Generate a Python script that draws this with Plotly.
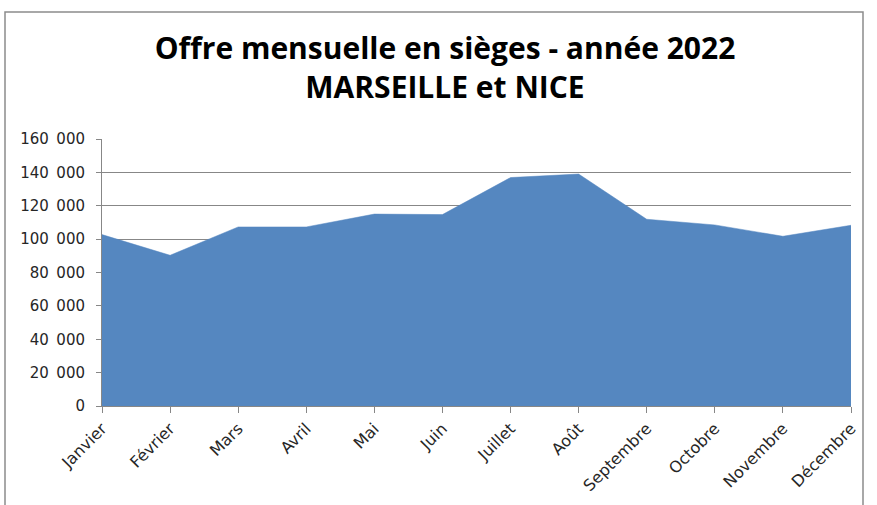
import plotly.graph_objects as go

mois = ["Janvier", "Février", "Mars", "Avril", "Mai", "Juin", "Juillet",
        "Août", "Septembre", "Octobre", "Novembre", "Décembre"]
sieges = [102700, 90300, 107300, 107300, 115000, 114700, 136900,
          139000, 111900, 108500, 101700, 108300]
y_ticks = [0, 20000, 40000, 60000, 80000, 100000, 120000, 140000, 160000]
y_labels = ["0", "20\u2002000", "40\u2002000", "60\u2002000", "80\u2002000",
            "100\u2002000", "120\u2002000", "140\u2002000", "160\u2002000"]

W, H = 877, 505
ML, MR, MT, MB = 102, 26, 139, 99
pw, ph = W - ML - MR, H - MT - MB

fig = go.Figure()
fig.add_trace(go.Scatter(
    x=mois, y=sieges, mode="lines", fill="tozeroy",
    fillcolor="#5587C0", line=dict(color="#5587C0", width=0.5),
    hoverinfo="x+y", showlegend=False,
))

def px_x(p):
    return (p - ML) / pw

def px_y(p):
    return (H - MB - p) / ph

fig.add_shape(type="rect", xref="paper", yref="paper",
              x0=px_x(5), x1=px_x(863), y0=px_y(520), y1=px_y(12),
              line=dict(color="#8c8c8c", width=1.5), layer="below")

fig.update_layout(
    width=W, height=H,
    margin=dict(l=ML, r=MR, t=MT, b=MB, autoexpand=False),
    paper_bgcolor="white", plot_bgcolor="white",
    font=dict(family="'DejaVu Sans', sans-serif", color="#262626", size=14),
    title=dict(text="<b>Offre mensuelle en sièges - année 2022<br>MARSEILLE et NICE</b>",
               x=px_x(445), xref="paper", xanchor="center",
               y=1 - 59 / H, yanchor="top", automargin=False,
               font=dict(family="'Open Sans', sans-serif", size=30, color="#000000")),
    xaxis=dict(
        range=[0, 11], showgrid=False, zeroline=False, automargin=False,
        showline=True, linecolor="#878787", linewidth=1,
        ticks="outside", ticklen=6, tickcolor="#878787",
        tickangle=-45, tickfont=dict(size=16, color="#262626"),
    ),
    yaxis=dict(
        range=[0, 160000], tickvals=y_ticks, ticktext=y_labels,
        showgrid=True, gridcolor="#878787", gridwidth=1.2, automargin=False,
        zeroline=False, showline=True, linecolor="#878787", linewidth=1,
        ticks="outside", ticklen=5, tickcolor="#878787",
        ticklabelstandoff=8,
        tickfont=dict(size=15, color="#262626"),
    ),
)

fig.write_html("out.html", config={"displayModeBar": False},
               post_script="document.body.style.margin='0';")
